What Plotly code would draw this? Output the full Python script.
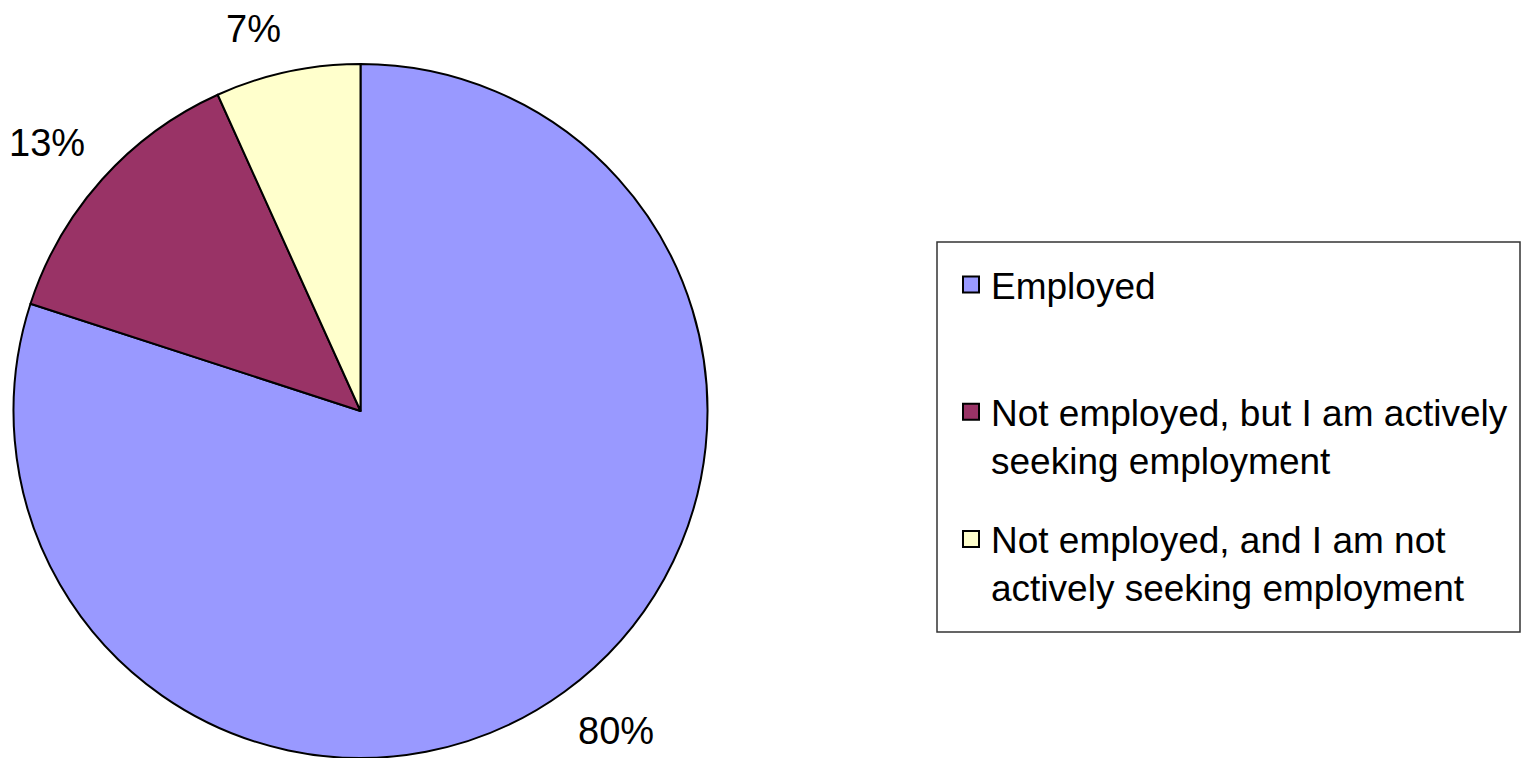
import math
import plotly.graph_objects as go

categories = ["Employed",
              "Not employed, but I am actively seeking employment",
              "Not employed, and I am not actively seeking employment"]
legend_labels = ["Employed<br> ",
                 "Not employed, but I am actively<br>seeking employment",
                 "Not employed, and I am not<br>actively seeking employment"]
values = [80.0, 13.25, 6.75]
colors = ["#9999FF", "#993366", "#FFFFCC"]

FONT = "Liberation Sans, Arial, sans-serif"
W, H = 1527, 750          # page body has an 8px margin
CX, CY, R = 352.5, 403.0, 347.0   # pie geometry in figure pixels
GAP = 20.0

fig = go.Figure()
fig.add_trace(go.Pie(
    labels=categories, values=values, sort=False, direction="clockwise", rotation=0,
    marker=dict(colors=colors, line=dict(color="black", width=2)),
    textinfo="none", showlegend=False, hoverinfo="label+percent",
    domain=dict(x=[(CX - R) / W, (CX + R) / W], y=[1 - (CY + R) / H, 1 - (CY - R) / H]),
))
for lab, col in zip(legend_labels, colors):
    fig.add_trace(go.Scatter(
        x=[None], y=[None], mode="markers", name=lab, legendgroup=lab,
        marker=dict(symbol="square", size=20, color=col, line=dict(color="black", width=2)),
    ))

# percentage labels placed outside each slice, derived from the values
total = sum(values)
cum = 0.0
for v in values:
    mid = (cum + v / 2) / total
    cum += v
    th = 2 * math.pi * mid
    dx, dy = math.sin(th), -math.cos(th)
    px, py = CX + (R + GAP) * dx, CY + (R + GAP) * dy
    fig.add_annotation(
        x=px / W, y=1 - py / H, xref="paper", yref="paper",
        text=f"{round(100 * v / total)}%", showarrow=False,
        xanchor="left" if dx > 0 else "right",
        yanchor="top" if dy > 0 else "bottom",
        font=dict(family=FONT, size=38, color="black"),
    )

fig.add_shape(type="rect", xref="paper", yref="paper",
              x0=929 / W, x1=1512 / W, y0=1 - 624 / H, y1=1 - 234 / H,
              line=dict(color="#333333", width=1.5), fillcolor="rgba(0,0,0,0)")

fig.update_layout(
    width=W, height=H, margin=dict(l=0, r=0, t=0, b=0),
    paper_bgcolor="white", plot_bgcolor="white",
    xaxis=dict(visible=False), yaxis=dict(visible=False),
    showlegend=True,
    legend=dict(x=943 / W, y=1 - 246 / H, xanchor="left", yanchor="top",
                font=dict(family=FONT, size=37, color="black"),
                valign="top", tracegroupgap=28, bgcolor="rgba(0,0,0,0)",
                borderwidth=0, traceorder="grouped"),
    font=dict(family=FONT),
)
fig.write_html("out.html")
